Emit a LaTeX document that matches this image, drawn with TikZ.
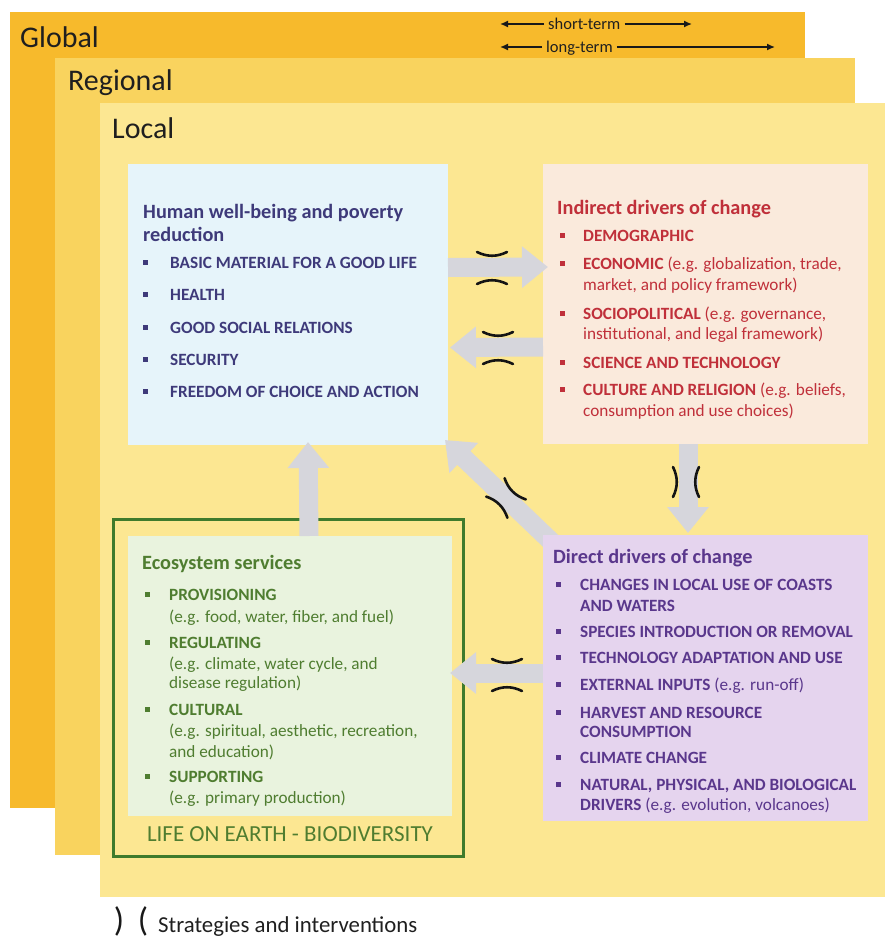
\documentclass[tikz,border=0pt]{standalone}
\usepackage{fontspec}
\setmainfont{Carlito}
\usetikzlibrary{arrows.meta}
\definecolor{cGlob}{HTML}{F7BA2C}
\definecolor{cReg}{HTML}{F9D35E}
\definecolor{cLoc}{HTML}{FCE792}
\definecolor{cHumBg}{HTML}{E6F4FA}
\definecolor{cIndBg}{HTML}{FAEADC}
\definecolor{cEcoBg}{HTML}{E9F3DE}
\definecolor{cDirBg}{HTML}{E5D4EE}
\definecolor{cHum}{HTML}{3E3A7A}
\definecolor{cInd}{HTML}{C0303A}
\definecolor{cEco}{HTML}{4F7D30}
\definecolor{cDir}{HTML}{5A378C}
\definecolor{cFrame}{HTML}{3F7B2C}
\definecolor{cArr}{HTML}{D6D6DC}
\newcommand{\bul}[6]{%
  \node[sq, fill=#2] (#1b) at (#3,#5-5.5) {};
  \node[itm, text=#2] (#1) at (#4,#5) {#6};}
\newcommand{\cont}[5]{%
  \node[itm, text=#2] (#1) at (#3,#4) {#5};}
\newcommand{\hbrk}[2]{%
  \draw[brk] (#1-15,#2-16) .. controls (#1-5,#2-11) and (#1+5,#2-11) .. (#1+15,#2-16);
  \draw[brk] (#1-15,#2+16) .. controls (#1-5,#2+11) and (#1+5,#2+11) .. (#1+15,#2+16);}
\newcommand{\vbrk}{%
  \draw[brk] (-13,-15) .. controls (-8,-5) and (-8,5) .. (-13,15);
  \draw[brk] (13,-15) .. controls (8,-5) and (8,5) .. (13,15);}
\begin{document}
\begin{tikzpicture}[x=1pt,y=-1pt,
  panel/.style={rectangle, inner sep=0pt, outer sep=0pt, draw=none, anchor=north west},
  lvl/.style={anchor=base west, inner sep=0pt, text=black!88, font=\fontsize{30}{32}\selectfont},
  ttl/.style={anchor=base west, inner sep=0pt, font=\bfseries\fontsize{20.3}{22}\selectfont},
  itm/.style={anchor=base west, inner sep=0pt, font=\fontsize{17.2}{19}\selectfont},
  sq/.style={rectangle, minimum size=5pt, inner sep=0pt, draw=none},
  bigarrow/.style={draw=cArr, line width=19pt, -{Triangle[width=40pt,length=26pt]}},
  brk/.style={line width=2.6pt, draw=black!92, line cap=round},
  tarr/.style={line width=1.4pt, draw=black!90, -{Latex[length=8pt,width=7pt]}},
  small/.style={anchor=base west, inner sep=0pt, text=black!88, font=\fontsize{16.5}{18}\selectfont}
]
\useasboundingbox (0,0) rectangle (885,940);
% layers
\node[panel, fill=cGlob, minimum width=795pt, minimum height=796pt] (glob) at (10,12) {};
\node[panel, fill=cReg, minimum width=800pt, minimum height=797pt] (reg) at (55,58) {};
\node[panel, fill=cLoc, minimum width=785pt, minimum height=794pt] (loc) at (100,103) {};
\node[lvl] (globt) at (20,47) {Global};
\node[lvl] (regt) at (68,90) {Regional};
\node[lvl] (loct) at (112,138) {Local};
% time arrows
\node[small] (st) at (548,29) {short-term};
\node[small] (lt) at (546,52) {long-term};
\coordinate (stL) at (500,24);
\coordinate (stR) at (692,24);
\coordinate (ltL) at (500,47);
\coordinate (ltR) at (775,47);
\draw[tarr] ([xshift=-4pt,yshift=5pt]st.base west) -- (stL);
\draw[tarr] ([xshift=4pt,yshift=5pt]st.base east) -- (stR);
\draw[tarr] ([xshift=-4pt,yshift=5pt]lt.base west) -- (ltL);
\draw[tarr] ([xshift=4pt,yshift=5pt]lt.base east) -- (ltR);
% boxes
\node[panel, fill=cHumBg, minimum width=320pt, minimum height=281pt] (hum) at (128,164) {};
\node[panel, fill=cIndBg, minimum width=325pt, minimum height=280pt] (ind) at (543,164) {};
\node[panel, draw=cFrame, line width=3pt, minimum width=350pt, minimum height=337pt] (frame) at (113,519) {};
\node[panel, fill=cEcoBg, minimum width=324pt, minimum height=280pt] (eco) at (128,536) {};
% diagonal arrow (under direct box)
\coordinate (dirNW) at (543,535);
\draw[bigarrow] ([xshift=14pt,yshift=-12pt]dirNW) -- ([xshift=-3pt,yshift=5pt]hum.south east);
\node[panel, fill=cDirBg, minimum width=325pt, minimum height=286pt] (dir) at (dirNW) {};
% other arrows
\draw[bigarrow] ([yshift=37pt]hum.east) -- ([yshift=37pt,xshift=5pt]ind.west);
\draw[bigarrow] ([yshift=-43pt]ind.west) -- ([yshift=-43pt,xshift=2pt]hum.east);
\draw[bigarrow] ([xshift=19pt]eco.north) -- ([xshift=20pt,yshift=3pt]hum.south);
\draw[bigarrow] ([xshift=-17.5pt]ind.south) -- ([xshift=-17.5pt,yshift=2pt]dir.north);
\draw[bigarrow] ([yshift=5pt]dir.west) -- ([yshift=3pt,xshift=-2pt]eco.east);
% break marks
\hbrk{492}{268}
\hbrk{498}{348}
\hbrk{507}{675}
\begin{scope}[shift={(686,482)}]\vbrk\end{scope}
\begin{scope}[shift={(506,498)},rotate=45]\vbrk\end{scope}
% Human well-being
\node[ttl, text=cHum] (humt1) at (143,218) {Human well-being and poverty};
\node[ttl, text=cHum] (humt2) at (143,241) {reduction};
\bul{h1}{cHum}{145}{170}{268}{\textbf{BASIC MATERIAL FOR A GOOD LIFE}}
\bul{h2}{cHum}{145}{170}{300}{\textbf{HEALTH}}
\bul{h3}{cHum}{145}{170}{333}{\textbf{GOOD SOCIAL RELATIONS}}
\bul{h4}{cHum}{145}{170}{365}{\textbf{SECURITY}}
\bul{h5}{cHum}{145}{170}{397}{\textbf{FREEDOM OF CHOICE AND ACTION}}
% Indirect drivers
\node[ttl, text=cInd] (indt) at (557,214) {Indirect drivers of change};
\bul{i1}{cInd}{562}{583}{241}{\textbf{DEMOGRAPHIC}}
\bul{i2}{cInd}{562}{583}{269}{\textbf{ECONOMIC} (e.g. globalization, trade,}
\cont{i2c}{cInd}{583}{290}{market, and policy framework)}
\bul{i3}{cInd}{562}{583}{319}{\textbf{SOCIOPOLITICAL} (e.g. governance,}
\cont{i3c}{cInd}{583}{339}{institutional, and legal framework)}
\bul{i4}{cInd}{562}{583}{368}{\textbf{SCIENCE AND TECHNOLOGY}}
\bul{i5}{cInd}{562}{583}{395}{\textbf{CULTURE AND RELIGION} (e.g. beliefs,}
\cont{i5c}{cInd}{583}{416}{consumption and use choices)}
% Ecosystem services
\node[ttl, text=cEco] (ecot) at (142,569) {Ecosystem services};
\bul{e1}{cEco}{147}{169}{600}{\textbf{PROVISIONING}}
\cont{e1c}{cEco}{169}{622}{(e.g. food, water, fiber, and fuel)}
\bul{e2}{cEco}{147}{169}{648}{\textbf{REGULATING}}
\cont{e2c}{cEco}{169}{669}{(e.g. climate, water cycle, and}
\cont{e2d}{cEco}{169}{688}{disease regulation)}
\bul{e3}{cEco}{147}{169}{715}{\textbf{CULTURAL}}
\cont{e3c}{cEco}{169}{736}{(e.g. spiritual, aesthetic, recreation,}
\cont{e3d}{cEco}{169}{757}{and education)}
\bul{e4}{cEco}{147}{169}{782}{\textbf{SUPPORTING}}
\cont{e4c}{cEco}{169}{803}{(e.g. primary production)}
\node[anchor=base, inner sep=0pt, text=cEco, font=\fontsize{23}{25}\selectfont] (life) at (290,841) {LIFE ON EARTH - BIODIVERSITY};
% Direct drivers
\node[ttl, text=cDir] (dirt) at (553,563) {Direct drivers of change};
\bul{d1}{cDir}{558}{580}{590}{\textbf{CHANGES IN LOCAL USE OF COASTS}}
\cont{d1c}{cDir}{580}{611}{\textbf{AND WATERS}}
\bul{d2}{cDir}{558}{580}{637}{\textbf{SPECIES INTRODUCTION OR REMOVAL}}
\bul{d3}{cDir}{558}{580}{663}{\textbf{TECHNOLOGY ADAPTATION AND USE}}
\bul{d4}{cDir}{558}{580}{690}{\textbf{EXTERNAL INPUTS} (e.g. run-off)}
\bul{d5}{cDir}{558}{580}{718}{\textbf{HARVEST AND RESOURCE}}
\cont{d5c}{cDir}{580}{737}{\textbf{CONSUMPTION}}
\bul{d6}{cDir}{558}{580}{763}{\textbf{CLIMATE CHANGE}}
\bul{d7}{cDir}{558}{580}{790}{\textbf{NATURAL, PHYSICAL, AND BIOLOGICAL}}
\cont{d7c}{cDir}{580}{810}{\textbf{DRIVERS} (e.g. evolution, volcanoes)}
% legend
\node[anchor=center, inner sep=0pt, text=black!90, font=\fontsize{34}{36}\selectfont] (legA) at (119,921) {)};
\node[anchor=center, inner sep=0pt, text=black!90, font=\fontsize{34}{36}\selectfont] (legB) at (143,921) {(};
\node[anchor=base west, inner sep=0pt, text=black!88, font=\fontsize{22.8}{24}\selectfont] (legT) at (158,932) {Strategies and interventions};
\end{tikzpicture}
\end{document}
